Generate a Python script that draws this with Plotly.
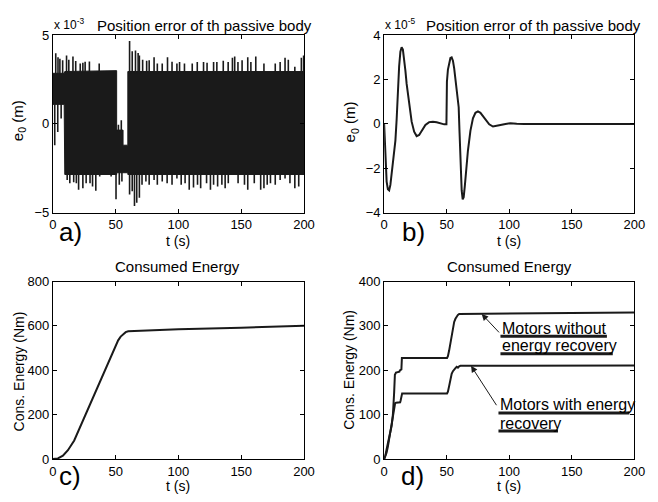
import numpy as np
import plotly.graph_objects as go

# ---- panel a: position error (x 10^-3 m), dense oscillation read as band + spikes
band_t = [0, 9.0, 9.5, 50.8, 50.8, 55.9, 55.9, 59.7, 59.7, 200]
band_top = [2.85, 2.85, 2.95, 3.0, -0.35, -0.35, -1.2, -1.2, 2.95, 2.95]
band_bot = [1.1, 1.1, -2.85, -2.85, -2.75, -2.75, -2.75, -2.75, -2.85, -2.85]

up_t = [2.3, 4.1, 5.6, 7.8, 10.9, 12.7, 16.0, 18.2, 21.8, 23.9, 25.7, 29.1, 36.9,
        52.2, 54.5, 61.1, 63.2, 65.8, 67.9, 68.9, 71.5, 74.7, 76.7, 80.6, 83.2,
        87.1, 91.3, 94.9, 98.8, 100.9, 104.8, 111.0, 115.0, 120.0, 122.8, 128.0,
        130.6, 135.7, 139.6, 143.0, 144.8, 147.4, 150.7, 155.2, 157.7, 161.6,
        168.1, 177.1, 181.0, 184.9, 187.5, 192.7, 197.9, 199.7]
up_v = [3.98, 3.76, 3.67, 3.58, 3.85, 3.62, 3.80, 3.54, 3.40, 3.44, 3.50, 3.52, 3.40,
        -0.05, 0.20, 4.67, 4.09, 4.13, 4.00, 3.85, 3.62, 3.55, 3.58, 3.76, 3.40,
        3.40, 3.76, 3.50, 3.40, 3.49, 3.40, 3.40, 3.49, 3.49, 3.44, 3.49,
        3.49, 3.55, 3.49, 3.72, 3.80, 3.49, 3.58, 3.76, 3.49, 3.80,
        3.40, 3.40, 3.49, 3.72, 3.62, 3.22, 3.72, 3.85]

dn_t = [1.5, 3.9, 6.6, 11.4, 13.5, 16.6, 18.7, 20.5, 23.9, 26.5, 29.6, 31.6, 34.2,
        37.3, 46.4, 50.3, 52.9, 55.0, 61.1, 63.2, 65.0, 66.8, 68.9, 71.0, 74.1,
        76.7, 80.6, 83.2, 87.1, 91.0, 94.9, 98.8, 102.2, 105.3, 108.6, 112.0,
        115.2, 117.7, 122.4, 125.5, 128.0, 131.2, 134.6, 137.2, 139.7, 147.5,
        152.6, 155.2, 160.4, 165.5, 168.1, 170.7, 173.3, 177.1, 181.0, 184.9,
        188.8, 192.7, 195.8]
dn_v = [-1.20, -0.45, 0.30, -3.16, -3.34, -3.29, -3.34, -3.71, -3.62, -3.34, -3.34, -3.52, -3.76,
        -2.97, -2.97, -4.25, -3.43, -3.25, -3.98, -3.80, -4.62, -4.44, -4.16, -3.43, -3.25,
        -3.43, -3.16, -3.43, -3.25, -3.34, -3.43, -3.07, -3.43, -3.34, -3.71, -3.58,
        -3.43, -3.62, -3.34, -3.71, -3.43, -3.52, -3.43, -3.62, -3.34, -3.34,
        -3.43, -3.71, -3.34, -3.71, -3.62, -3.43, -3.34, -3.43, -3.16, -3.07,
        -3.34, -3.62, -3.52]

# ---- panel b: position error (x 10^-5 m)
b_t = [0, 1, 2, 3, 4, 5, 6, 7, 8, 9, 10, 11, 12, 13, 14, 15, 16, 17, 18, 20, 22, 24,
       26, 28, 30, 33, 36, 39, 42, 45, 48, 49.8, 50.2, 51, 52, 53, 54, 55, 56, 57,
       58, 59, 59.6, 60.3, 61, 62, 62.8, 63.6, 64.5, 65.5, 67, 69, 71, 73, 75, 77,
       79, 81, 84, 87, 90, 93, 97, 101, 106, 112, 200]
b_v = [0, -1.6, -2.6, -2.95, -3.0, -2.75, -2.2, -1.6, -1.1, -0.75, 0.2, 1.5, 2.6,
       3.25, 3.45, 3.35, 2.95, 2.4, 1.8, 0.8, 0.1, -0.35, -0.55, -0.5, -0.32, -0.05,
       0.08, 0.1, 0.07, 0.02, -0.02, -0.02, 1.9, 2.45, 2.8, 2.97, 3.0, 2.85, 2.5,
       2.05, 1.55, 1.0, 0.75, -0.4, -1.9, -3.0, -3.4, -3.3, -2.8, -2.1, -1.2, -0.3,
       0.25, 0.5, 0.56, 0.5, 0.35, 0.17, -0.02, -0.12, -0.1, -0.05, 0.0, 0.03,
       0.01, 0.0, 0.0]

# ---- panel c: consumed energy
c_t = [0, 4, 8, 12, 17, 20, 25, 30, 35, 40, 45, 48, 50, 52, 54, 56, 58, 60, 100, 150, 200]
c_v = [0, 3, 15, 40, 84, 123, 188, 253, 318, 383, 448, 487, 512, 535, 552, 564, 572,
       576, 585, 592, 601]

# ---- panel d: consumed energy, two motor types
d_t_wo = [0, 1, 2, 3, 4, 5, 6, 7, 7.5, 8, 8.6, 9.5, 12.2, 12.6, 13.8, 14.2, 50.3,
          51, 52, 53, 54, 55, 56, 57, 58, 59, 60, 100, 150, 200]
d_wo = [0, 8, 22, 36, 48, 60, 75, 100, 120, 150, 190, 195, 197, 200, 202, 228, 228,
        232, 245, 262, 282, 298, 309, 316, 321, 325, 327, 328, 329, 330]
d_t_w = [0, 1, 2, 3, 4, 5, 6, 7, 8, 8.8, 9.5, 12.8, 13.2, 13.8, 14.4, 50.3, 51, 52,
         53, 54, 55, 56, 57, 58, 59, 60, 61, 100, 200]
d_w = [0, 6, 15, 28, 45, 62, 80, 100, 118, 126, 127, 128, 132, 146, 148, 148, 152,
       165, 180, 192, 198, 203, 205, 208, 206, 209, 210, 210, 211]

W, H = 658, 502
FONT = "Liberation Sans, Arial, sans-serif"
INK = "#1a1a1a"


def px(x):
    return x / W


def py(y):
    return 1 - y / H


fig = go.Figure()

# a) band as a filled polygon, spikes as vertical strokes
fig.add_trace(go.Scatter(
    x=band_t + band_t[::-1], y=band_top + band_bot[::-1],
    fill="toself", fillcolor=INK, mode="lines", line=dict(color=INK, width=1),
    xaxis="x", yaxis="y", hoverinfo="skip"))
sx, sy = [], []
for t, v in zip(up_t, up_v):
    sx += [t, t, None]
    sy += [float(np.interp(t, band_t, band_top)) - 0.1, v, None]
for t, v in zip(dn_t, dn_v):
    sx += [t, t, None]
    sy += [float(np.interp(t, band_t, band_bot)) + 0.1, v, None]
fig.add_trace(go.Scatter(x=sx, y=sy, mode="lines", line=dict(color=INK, width=1.6),
                         xaxis="x", yaxis="y", hoverinfo="skip"))

fig.add_trace(go.Scatter(x=b_t, y=b_v, mode="lines", line=dict(color=INK, width=2),
                         xaxis="x2", yaxis="y2"))
fig.add_trace(go.Scatter(x=c_t, y=c_v, mode="lines", line=dict(color=INK, width=2),
                         xaxis="x3", yaxis="y3"))
fig.add_trace(go.Scatter(x=d_t_wo, y=d_wo, mode="lines", line=dict(color=INK, width=2),
                         xaxis="x4", yaxis="y4"))
fig.add_trace(go.Scatter(x=d_t_w, y=d_w, mode="lines", line=dict(color=INK, width=2),
                         xaxis="x4", yaxis="y4"))


def ax(dom, rng, dtick, anchor):
    return dict(domain=dom, range=rng, dtick=dtick, tick0=0, anchor=anchor,
                showline=True, linecolor="black", linewidth=1, mirror="ticks",
                ticks="inside", ticklen=4, tickcolor="black", showgrid=False,
                zeroline=False, tickfont=dict(family=FONT, size=13, color="black"),
                fixedrange=True)


xa = [px(50), px(307)]
xb = [px(389), px(645)]
ytop = [py(212), py(29)]
ybot = [py(466), py(283)]

fig.update_layout(
    width=W, height=H, margin=dict(l=0, r=0, t=0, b=0),
    paper_bgcolor="white", plot_bgcolor="white", showlegend=False,
    font=dict(family=FONT, color="black"),
    xaxis=ax(xa, [0, 200], 50, "y"), yaxis=ax(ytop, [-5, 5], 5, "x"),
    xaxis2=ax(xb, [0, 200], 50, "y2"), yaxis2=ax(ytop, [-4, 4], 2, "x2"),
    xaxis3=ax(xa, [0, 200], 50, "y3"), yaxis3=ax(ybot, [0, 800], 200, "x3"),
    xaxis4=ax(xb, [0, 200], 50, "y4"), yaxis4=ax(ybot, [0, 400], 100, "x4"),
)

ann = []


def txt(x, y, s, size, xanchor="center", yanchor="middle", angle=0, **kw):
    ann.append(dict(x=x, y=y, xref="paper", yref="paper", text=s, showarrow=False,
                    xanchor=xanchor, yanchor=yanchor, textangle=angle,
                    font=dict(family=FONT, size=size, color="black"), **kw))


# titles
txt(px(93), py(19), "Position error of th passive body", 15, xanchor="left")
txt(px(430), py(19), "Position error of th passive body", 15, xanchor="left")
txt(px(178), py(268), "Consumed Energy", 15)
txt(px(517), py(268), "Consumed Energy", 15)
# exponent labels
txt(px(49), py(28), "x 10<sup>-3</sup>", 12, xanchor="left", yanchor="bottom")
txt(px(388), py(28), "x 10<sup>-5</sup>", 12, xanchor="left", yanchor="bottom")
# axis titles
for xc, yc in [(178, 241), (517, 241), (178, 494), (517, 494)]:
    txt(px(xc), py(yc), "t (s)", 14)
txt(px(15), py(117), "e<sub>0</sub> (m)", 15, angle=-90)
txt(px(355), py(118), "e<sub>0</sub> (m)", 15, angle=-90)
txt(px(15), py(376), "Cons. Energy (Nm)", 14, angle=-90)
txt(px(353), py(374), "Cons. Energy (Nm)", 14, angle=-90)
# panel letters
txt(px(68), py(232), "a)", 26)
txt(px(419), py(232), "b)", 26)
txt(px(68), py(483), "c)", 26)
txt(px(418), py(483), "d)", 26)

# panel d labels (left edge at given t, centre at given energy)
for t, e, s in [(93, 295, "Motors without"), (93, 256, "energy recovery"),
                (91.4, 122, "Motors with energy"), (91.4, 81, "recovery")]:
    ann.append(dict(x=t, y=e, xref="x4", yref="y4", text=s, showarrow=False,
                    xanchor="left", yanchor="middle",
                    font=dict(family=FONT, size=16, color="black")))
# arrows
for hx, hy, tx, ty in [(78, 327, 93, 282), (69.5, 210, 90.6, 118)]:
    ann.append(dict(x=hx, y=hy, ax=tx, ay=ty, xref="x4", yref="y4",
                    axref="x4", ayref="y4", text="", showarrow=True,
                    arrowhead=2, arrowsize=1.3, arrowwidth=1, arrowcolor=INK))

fig.update_layout(annotations=ann)

# thick underlines under the panel d labels
for x0, x1, y in [(93, 178.1, 276.5), (93, 182.8, 237.2),
                  (91.4, 196.1, 103.8), (91.4, 139, 63.4)]:
    fig.add_shape(type="line", xref="x4", yref="y4", x0=x0, x1=x1, y0=y, y1=y,
                  line=dict(color=INK, width=3))

fig.write_html("out.html", config={"displayModeBar": False},
               post_script="document.body.style.margin='0px';")
